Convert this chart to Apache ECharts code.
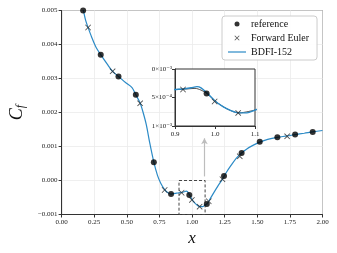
<!DOCTYPE html>
<html><head><meta charset="utf-8">
<script src="https://cdn.jsdelivr.net/npm/echarts@6/dist/echarts.min.js"></script>
<style>html,body{margin:0;padding:0;background:#fff}#c{width:337px;height:253px}</style>
</head><body><div id="c"></div>
<script>
// BDFI-152 curve
const lineX = [0.160,0.170,0.185,0.203,0.230,0.260,0.300,0.350,0.391,0.436,0.490,0.540,0.569,0.602,0.625,0.650,0.675,0.707,0.735,0.760,0.790,0.815,0.839,0.870,0.900,0.920,0.940,0.955,0.965,0.980,1.000,1.020,1.040,1.060,1.080,1.100,1.113,1.128,1.160,1.200,1.233,1.260,1.300,1.340,1.380,1.420,1.470,1.519,1.580,1.654,1.729,1.790,1.860,1.925,2.000];
const lineY = [0.00515,0.00495,0.00470,0.00450,0.00422,0.00395,0.00370,0.00342,0.00321,0.00306,0.00288,0.00273,0.00252,0.00228,0.00200,0.00163,0.00112,0.00054,0.00015,-0.00008,-0.00027,-0.00036,-0.00040,-0.00038,-0.00036,-0.00035,-0.00033,-0.00031,-0.00033,-0.00042,-0.00056,-0.00066,-0.00073,-0.00077,-0.00077,-0.00072,-0.00069,-0.00061,-0.00040,-0.00015,0.00004,0.00022,0.00045,0.00066,0.00081,0.00093,0.00104,0.00113,0.00121,0.00127,0.00131,0.00135,0.00139,0.00143,0.00147];
// reference points
const refX = [0.165,0.300,0.436,0.569,0.707,0.839,0.979,1.113,1.245,1.380,1.519,1.654,1.790,1.925];
const refY = [0.00500,0.00370,0.00306,0.00252,0.00054,-0.00040,-0.00043,-0.00069,0.000135,0.00081,0.00114,0.00127,0.00135,0.00143];
// Forward Euler points
const eulX = [0.203,0.391,0.602,0.790,0.920,0.999,1.058,1.128,1.233,1.366,1.729];
const eulY = [0.00450,0.00321,0.00227,-0.00028,-0.00036,-0.00057,-0.00077,-0.00061,0.00004,0.00071,0.00130];
// thin reference curve visible in inset
const refLineX = [0.900,0.930,0.950,0.965,0.980,1.000,1.030,1.060,1.100];
const refLineY = [-0.00036,-0.00035,-0.00034,-0.00037,-0.00043,-0.00056,-0.00070,-0.00077,-0.00072];
// ticks
const xTickLabels = ['0.00','0.25','0.50','0.75','1.00','1.25','1.50','1.75','2.00'];
const yTickLabels = ['\u22120.001','0.000','0.001','0.002','0.003','0.004','0.005'];
const insetXTickLabels = ['0.9','1.0','1.1'];
const insetYTickLabels = ['1\u00d710\u207b\u00b3','5\u00d710\u207b\u2074','0\u00d710\u207b\u00b3'];
// zoom box annotation
const zoomBox = {x0:0.9, x1:1.1, y0:-0.001, y1:0};
const arrowPos = {x:1.095, y0:0.00012, y1:0.00124};

const pts = (xs, ys) => xs.map((x,i)=>[x, ys[i]]);
const serif = '"Liberation Serif","DejaVu Serif",serif';
const blue = '#2b8ac6';
const crossPath = 'path://M1,0L5,4L9,0L10,1L6,5L10,9L9,10L5,6L1,10L0,9L4,5L0,1Z';
const lineIcon = 'path://M0,0L30,0L30,2L0,2Z';

const chart = echarts.init(document.getElementById('c'), null, {renderer:'canvas'});
const axisCommon = {
  axisLine:{show:true, onZero:false, lineStyle:{color:'#333', width:1}},
  axisTick:{show:true, length:3, lineStyle:{color:'#333'}},
  axisLabel:{fontFamily:serif, fontSize:7, color:'#222'}
};
chart.setOption({
  animation:false,
  backgroundColor:'#fff',
  grid:[
    {left:56.5, top:10.5, width:266, height:204, show:true, borderColor:'#333', borderWidth:1, backgroundColor:'transparent'},
    {left:175, top:69, width:80, height:57, show:true, borderColor:'#333', borderWidth:1, backgroundColor:'#fff', z:5}
  ],
  xAxis:[
    Object.assign({}, axisCommon, {type:'value', gridIndex:0, min:0, max:2, interval:0.25,
      axisLabel:Object.assign({}, axisCommon.axisLabel, {margin:4, formatter:v=>xTickLabels[Math.round(v/0.25)]}),
      splitLine:{show:true, lineStyle:{color:'#ebebeb', width:0.8}},
      name:'x', nameLocation:'middle', nameGap:10,
      nameTextStyle:{fontFamily:serif, fontStyle:'italic', fontSize:17, color:'#111'}}),
    Object.assign({}, axisCommon, {type:'value', gridIndex:1, min:0.9, max:1.1, interval:0.1, z:6,
      axisLabel:Object.assign({}, axisCommon.axisLabel, {margin:5, formatter:v=>insetXTickLabels[Math.round((v-0.9)/0.1)]}),
      splitLine:{show:false}})
  ],
  yAxis:[
    Object.assign({}, axisCommon, {type:'value', gridIndex:0, min:-0.001, max:0.005, interval:0.001,
      axisLabel:Object.assign({}, axisCommon.axisLabel, {margin:4, formatter:v=>yTickLabels[Math.round((v+0.001)/0.001)]}),
      splitLine:{show:true, lineStyle:{color:'#ebebeb', width:0.8}},
      name:'{c|C}{f|f}', nameLocation:'middle', nameGap:30,
      nameTextStyle:{rich:{
        c:{fontFamily:serif, fontStyle:'italic', fontSize:18, color:'#111'},
        f:{fontFamily:serif, fontStyle:'italic', fontSize:12, color:'#111', padding:[8,0,0,0]}
      }}}),
    Object.assign({}, axisCommon, {type:'value', gridIndex:1, min:-0.001, max:0, interval:0.0005, z:6,
      axisLabel:Object.assign({}, axisCommon.axisLabel, {margin:3, formatter:v=>insetYTickLabels[Math.round((v+0.001)/0.0005)]}),
      splitLine:{show:false}})
  ],
  legend:{
    orient:'vertical', left:222, top:16, padding:[3,8,3,6], itemGap:4,
    itemWidth:18, itemHeight:5, itemTextGap:5,
    borderColor:'#ccc', borderWidth:1, borderRadius:3, backgroundColor:'rgba(255,255,255,0.9)',
    textStyle:{fontFamily:serif, fontSize:10, color:'#111'},
    data:['reference','Forward Euler',{name:'BDFI-152', icon:lineIcon, itemStyle:{color:blue}}]
  },
  series:[
    {name:'BDFI-152', type:'line', xAxisIndex:0, yAxisIndex:0, data:pts(lineX,lineY), smooth:0.3,
     showSymbol:false, symbol:'none', lineStyle:{color:blue, width:1.2}, itemStyle:{color:blue}, z:2,
     markArea:{silent:true, itemStyle:{color:'rgba(0,0,0,0)', borderColor:'#444', borderWidth:1, borderType:[3,2]},
       data:[[{coord:[zoomBox.x0, zoomBox.y1]},{coord:[zoomBox.x1, zoomBox.y0]}]]},
     markLine:{silent:true, symbol:['none','arrow'], symbolSize:[5,6], label:{show:false},
       lineStyle:{color:'#bdbdbd', width:1.2, type:'solid'},
       data:[[{coord:[arrowPos.x, arrowPos.y0]},{coord:[arrowPos.x, arrowPos.y1]}]]}},
    {name:'reference', type:'scatter', xAxisIndex:0, yAxisIndex:0, data:pts(refX,refY),
     symbol:'circle', symbolSize:6, itemStyle:{color:'#000'}, z:3},
    {name:'Forward Euler', type:'scatter', xAxisIndex:0, yAxisIndex:0, data:pts(eulX,eulY),
     symbol:crossPath, symbolSize:6, itemStyle:{color:'#222'}, z:4},
    {name:'refInset', type:'line', xAxisIndex:1, yAxisIndex:1, data:pts(refLineX,refLineY), smooth:0.3,
     showSymbol:false, symbol:'none', lineStyle:{color:'#222', width:0.8}, z:7},
    {name:'BDFI-152', type:'line', xAxisIndex:1, yAxisIndex:1, data:pts(lineX,lineY), smooth:0.3,
     showSymbol:false, symbol:'none', lineStyle:{color:blue, width:1.4}, itemStyle:{color:blue}, z:8},
    {name:'reference', type:'scatter', xAxisIndex:1, yAxisIndex:1, data:pts(refX,refY),
     symbol:'circle', symbolSize:6, itemStyle:{color:'#000'}, z:9},
    {name:'Forward Euler', type:'scatter', xAxisIndex:1, yAxisIndex:1, data:pts(eulX,eulY),
     symbol:crossPath, symbolSize:6, itemStyle:{color:'#222'}, z:10}
  ]
});
</script>
</body></html>
